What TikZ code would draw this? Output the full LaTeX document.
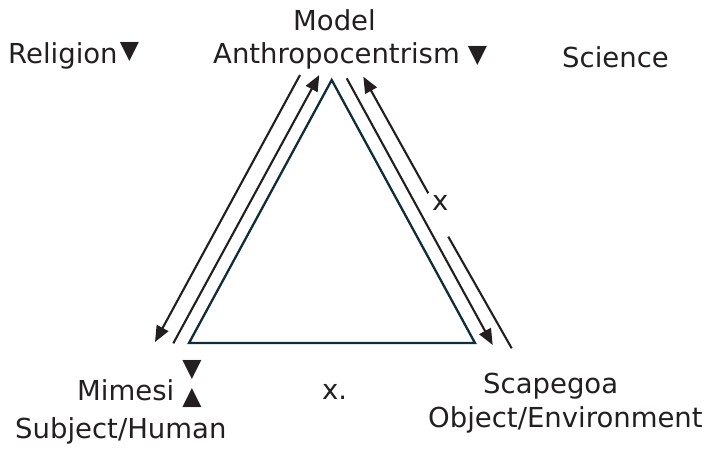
\documentclass[tikz,border=0pt]{standalone}
\usepackage{fontspec}
\setmainfont{DejaVu Sans}
\newfontfamily\symfont{DejaVu Sans}
\usetikzlibrary{arrows.meta}
\definecolor{txt}{HTML}{231F20}
\definecolor{tri}{HTML}{0F2D3A}
\begin{document}
\begin{tikzpicture}[x=1pt,y=-1pt,
  lbl/.style={font=\fontsize{27.5}{30}\selectfont, text=txt, inner sep=0pt, anchor=base west},
  sym/.style={font=\symfont\fontsize{25}{27}\selectfont, text=txt, inner sep=0pt, anchor=center},
  conn/.style={draw=txt, line width=2.1pt},
  arr/.style={conn, -{Triangle[length=16pt,width=13pt]}},
  trib/.style={draw=tri, line width=2.3pt, line join=miter}]
\useasboundingbox (0,0) rectangle (711,448);
% labels
\node[lbl] (model) at (293,30) {Model};
\node[lbl] (anthro) at (213,63) {Anthropocentrism};
\node[sym] (anthrotri) at (477.5,56) {▼};
\node[lbl] (religion) at (8,63) {Religion};
\node[sym] (reltri) at (129.5,52) {▼};
\node[lbl] (science) at (562,67) {Science};
\node[lbl] (mimesi) at (77,400) {Mimesi};
\node[sym] (mdown) at (192,369.5) {▼};
\node[sym] (mup) at (192,397.5) {▲};
\node[lbl] (xdot) at (322,399) {x.};
\node[lbl] (subject) at (15,438) {Subject/Human};
\node[lbl] (scape) at (483,393) {Scapegoa};
\node[lbl] (object) at (428,427) {Object/Environment};
\node[lbl] (xr) at (432,210) {x};
% triangle
\coordinate (A) at (331.7,80);
\coordinate (B) at (189,343);
\coordinate (C) at (475,343);
\draw[trib] (A) -- (B) -- (C) -- cycle;
% left connectors
\coordinate (l1s) at (300,75);
\coordinate (l1e) at (155,342);
\coordinate (l2s) at (173.3,343.3);
\coordinate (l2e) at (319.3,75);
\draw[arr] (l1s) -- (l1e);
\draw[arr] (l2s) -- (l2e);
% right connectors
\coordinate (r1s) at (346.7,78.3);
\coordinate (r1e) at (492.7,345);
\draw[arr] (r1s) -- (r1e);
\coordinate (r2s) at (428.3,193.3);
\coordinate (r2e) at (363.3,76.7);
\draw[arr] (r2s) -- (r2e);
\coordinate (r3s) at (448.3,236.7);
\coordinate (r3e) at (511.7,348.3);
\draw[conn] (r3s) -- (r3e);
\end{tikzpicture}
\end{document}
